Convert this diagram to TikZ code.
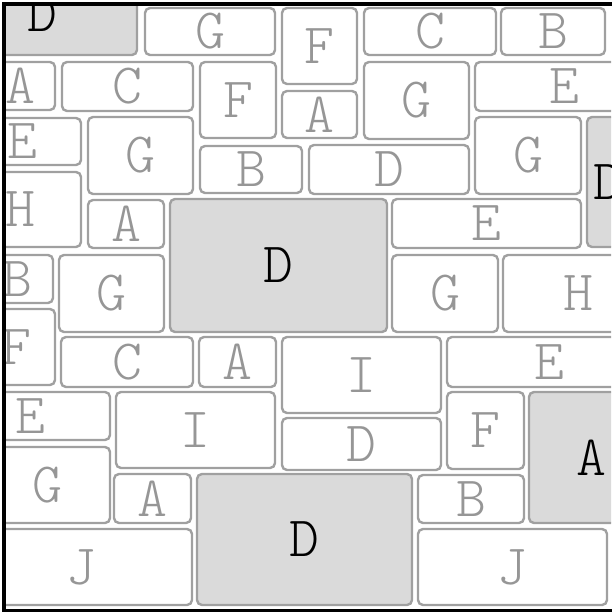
\documentclass[tikz,border=0pt]{standalone}
\usepackage{fontspec}
\newfontfamily\stonefont{lmmonolt10-regular}[Extension=.otf]
\definecolor{mortar}{RGB}{160,160,160}
\definecolor{slate}{RGB}{218,218,218}
\definecolor{chalk}{RGB}{150,150,150}
\tikzset{
  stone/.style={draw=mortar, line width=2.4pt, rounded corners=5pt, fill=white},
  darkstone/.style={stone, fill=slate},
  glyph/.style={inner sep=0pt, text=chalk, font=\stonefont\fontsize{57}{57}\selectfont},
  darkglyph/.style={glyph, text=black}
}

\begin{document}
\begin{tikzpicture}[x=1pt,y=-1pt]
\useasboundingbox (0,0) rectangle (611,612);

\begin{scope}
\clip (6,6) rectangle (611,609);

% light stones, row by row (corners in pixels, y down)
\foreach \xa/\ya/\xb/\yb/\t [count=\i] in {
  145/8/275/55/G, 282/8/357/84/F, 364/8/496/55/C, 501/8/605/55/B,
  -14/62/55/110/A, 62/62/193/111/C, 200/62/276/138/F, 282/91/357/138/A,
  364/62/469/139/G, 475/62/653/111/E,
  -36/118/81/165/E, 88/117/193/194/G, 200/146/302/193/B, 309/145/469/194/D,
  475/117/581/194/G,
  -41/172/81/247/H, 88/200/164/248/A, 392/199/581/248/E,
  -18/255/53/303/B, 59/255/164/332/G, 392/255/498/332/G, 503/255/653/332/H,
  -23/309/55/385/F, 61/337/193/387/C, 199/337/276/387/A, 282/337/441/413/I,
  447/337/651/387/E,
  -50/392/110/440/E, 116/392/275/468/I, 282/418/441/470/D, 447/392/524/469/F,
  -16/447/110/523/G, 114/474/191/523/A, 418/475/524/523/B,
  -30/529/192/605/J, 418/529/607/605/J} {
  \draw[stone] (\xa,\ya) rectangle (\xb,\yb);
  \path (\xa,\ya) -- (\xb,\yb) node[midway,glyph] (g\i) {\t};
}

% shaded stones
\foreach \xa/\ya/\xb/\yb/\t [count=\i] in {
  -52/-27/137/55/D, 587/117/629/247/D, 170/199/387/332/D,
  529/392/653/523/A, 197/474/412/605/D} {
  \draw[darkstone] (\xa,\ya) rectangle (\xb,\yb);
  \path (\xa,\ya) -- (\xb,\yb) node[midway,darkglyph] (d\i) {\t};
}
\end{scope}

% frame (open at the right)
\draw[line width=4pt] (615,4) -- (4,4) -- (4,610.5) -- (615,610.5);

\end{tikzpicture}
\end{document}
